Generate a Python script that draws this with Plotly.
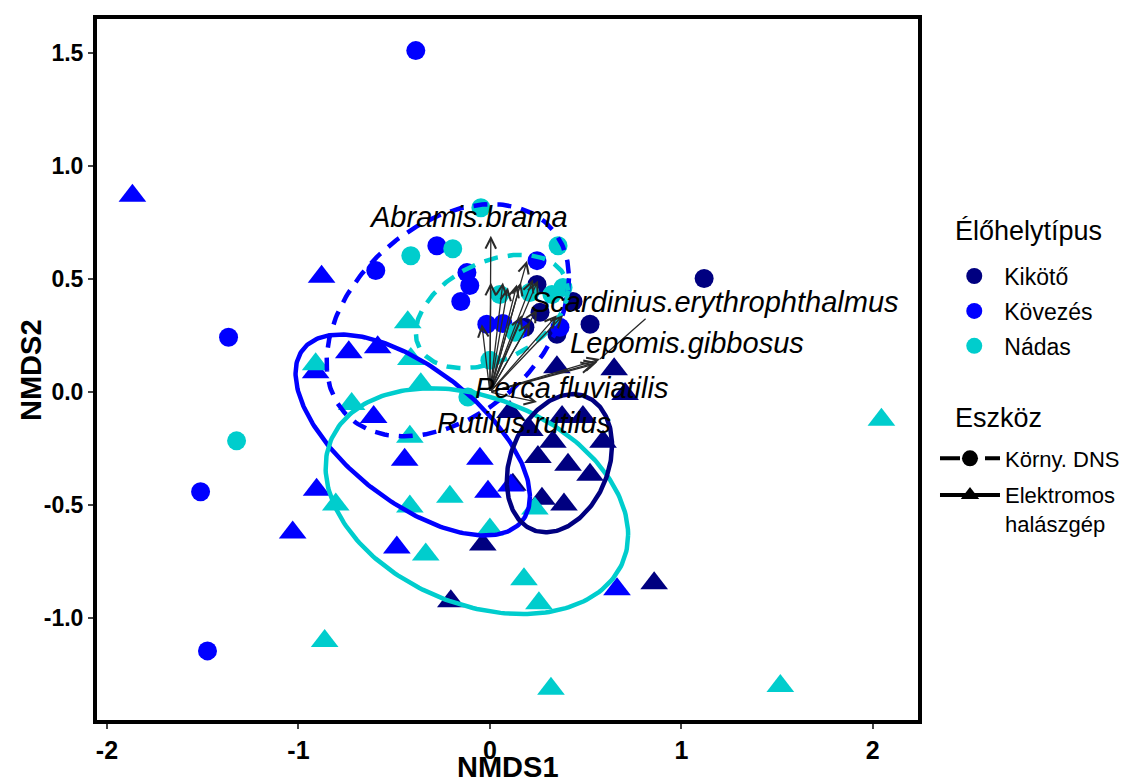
import numpy as np
import plotly.graph_objects as go

# ---------------- data ----------------
habitats = ["Kikötő", "Kövezés", "Nádas"]
tools = ["Körny. DNS", "Elektromos<br>halászgép"]

# eDNA (Körny. DNS) site scores
kikoto_dns_x = [1.119, 0.523, 0.246, 0.434, 0.350, 0.262, 0.183]
kikoto_dns_y = [0.503, 0.300, 0.476, 0.401, 0.256, 0.353, 0.287]
kovezes_dns_x = [-0.387, -1.365, -1.511, -1.475, -0.596, -0.277, -0.120, -0.105, -0.152, -0.016, 0.246, 0.068, 0.157, 0.366]
kovezes_dns_y = [1.512, 0.243, -0.441, -1.146, 0.538, 0.648, 0.529, 0.472, 0.401, 0.300, 0.582, 0.304, 0.278, 0.287]
nadas_dns_x = [-0.047, -0.194, -0.413, 0.356, -1.323, -0.115, 0.000, 0.052, 0.209, 0.324, 0.382, 0.131]
nadas_dns_y = [0.816, 0.635, 0.604, 0.648, -0.216, -0.022, 0.141, 0.432, 0.441, 0.432, 0.463, 0.265]

# electrofishing (Elektromos halászgép) site scores
kikoto_el_x = [0.350, 0.649, 0.706, 0.377, 0.486, 0.329, 0.591, 0.251, 0.408, 0.523, 0.272, 0.387, 0.120, -0.037, -0.204, 0.858, 0.209, 0.105]
kikoto_el_y = [0.110, 0.101, -0.009, -0.110, -0.110, -0.220, -0.220, -0.287, -0.322, -0.366, -0.472, -0.498, -0.410, -0.675, -0.926, -0.847, -0.168, -0.088]
kovezes_el_x = [-1.867, -0.879, -0.737, -0.586, -0.910, -0.607, -0.445, -0.905, -1.030, -0.486, -0.052, -0.010, 0.110, 0.664]
kovezes_el_y = [0.869, 0.511, 0.176, 0.198, 0.088, -0.110, -0.300, -0.432, -0.622, -0.688, -0.295, -0.441, -0.414, -0.873]
nadas_el_x = [-0.429, -0.413, -0.361, -0.722, -0.418, -0.910, -0.805, -0.418, -0.209, -0.335, 0.000, 0.235, 0.178, 0.256, -0.863, 0.319, 1.517, 2.045]
nadas_el_y = [0.309, 0.146, 0.035, -0.053, -0.198, 0.123, -0.498, -0.507, -0.463, -0.719, -0.608, -0.516, -0.829, -0.935, -1.102, -1.314, -1.301, -0.123]

# 95% ellipses: habitat, tool, centre, half-extents, correlation
ell_habitat = ["Kövezés", "Nádas", "Kövezés", "Nádas", "Kikötő"]
ell_tool = ["Körny. DNS", "Körny. DNS", "Elektromos<br>halászgép", "Elektromos<br>halászgép", "Elektromos<br>halászgép"]
ell_cx = [-0.220, 0.010, -0.403, -0.068, 0.363]
ell_cy = [0.318, 0.357, -0.190, -0.483, -0.315]
ell_sx = [0.633, 0.397, 0.612, 0.790, 0.275]
ell_sy = [0.514, 0.251, 0.445, 0.500, 0.306]
ell_r = [0.362, 0.376, -0.614, -0.299, 0.257]

# species vectors (envfit)
species_x = [0.005, 0.005, -0.042, 0.068, 0.094, 0.141, 0.162, 0.194, 0.225, 0.251, 0.246, 0.350, 0.209, 0.167, 0.382, 0.575, 0.560, 0.544, 0.246]
species_y = [0.692, 0.485, 0.300, 0.485, 0.463, 0.476, 0.485, 0.582, 0.498, 0.494, 0.366, 0.340, 0.309, 0.340, 0.340, 0.146, 0.132, 0.123, -0.044]
label_names = ["Abramis.brama", "Scardinius.erythrophthalmus", "Lepomis.gibbosus", "Perca.fluviatilis", "Rutilus.rutilus"]
label_x = [-0.110, 1.177, 1.030, 0.424, 0.178]
label_y = [0.776, 0.397, 0.216, 0.018, -0.137]
label_arrow = [0, 15, 16, 17, 18]  # index of the vector each label belongs to
segment_end_x = 0.821   # ggrepel leader segment end for the Scardinius label
segment_end_y = 0.331

x_ticks = [-2, -1, 0, 1, 2]
x_ticktext = ["-2", "-1", "0", "1", "2"]
y_ticks = [1.5, 1.0, 0.5, 0.0, -0.5, -1.0]
y_ticktext = ["1.5", "1.0", "0.5", "0.0", "-0.5", "-1.0"]

# ---------------- styles ----------------
colors = {"Kikötő": "#000080", "Kövezés": "#0000FF", "Nádas": "#00CDCD"}
symbols = {"Körny. DNS": "circle", "Elektromos<br>halászgép": "triangle-up"}
sizes = {"Körny. DNS": 19, "Elektromos<br>halászgép": 24}
dashes = {"Körny. DNS": "14px,10px", "Elektromos<br>halászgép": "solid"}
TXT = "Liberation Sans"

fig = go.Figure()

groups = [
    ("Kikötő", "Körny. DNS", kikoto_dns_x, kikoto_dns_y),
    ("Kövezés", "Körny. DNS", kovezes_dns_x, kovezes_dns_y),
    ("Nádas", "Körny. DNS", nadas_dns_x, nadas_dns_y),
    ("Kikötő", "Elektromos<br>halászgép", kikoto_el_x, kikoto_el_y),
    ("Kövezés", "Elektromos<br>halászgép", kovezes_el_x, kovezes_el_y),
    ("Nádas", "Elektromos<br>halászgép", nadas_el_x, nadas_el_y),
]
for hab, tool, xs, ys in groups:
    fig.add_trace(go.Scatter(
        x=xs, y=ys, mode="markers", showlegend=False, hoverinfo="skip",
        marker=dict(symbol=symbols[tool], size=sizes[tool], color=colors[hab], line=dict(width=0)),
    ))

# ellipses
t = np.linspace(0, 2 * np.pi, 241)
for hab, tool, cx, cy, sx, sy, r in zip(ell_habitat, ell_tool, ell_cx, ell_cy, ell_sx, ell_sy, ell_r):
    d = np.arccos(r)
    ex = cx + sx * np.cos(t)
    ey = cy + sy * np.cos(t + d)
    fig.add_trace(go.Scatter(
        x=ex, y=ey, mode="lines", showlegend=False, hoverinfo="skip",
        line=dict(color=colors[hab], width=4.5, dash=dashes[tool]),
    ))

# legend-only traces
for i, hab in enumerate(habitats):
    fig.add_trace(go.Scatter(
        x=[None], y=[None], mode="markers", name=hab, legend="legend", legendgroup="h%d" % i,
        marker=dict(symbol="circle", size=19, color=colors[hab]),
    ))
for i, tool in enumerate(tools):
    fig.add_trace(go.Scatter(
        x=[None], y=[None], mode="lines+markers", name=tool, legend="legend2", legendgroup="t%d" % i,
        marker=dict(symbol=symbols[tool], size=sizes[tool] - 2, color="black"),
        line=dict(color="black", width=4, dash="20px,25px" if tool == "Körny. DNS" else "solid"),
    ))

annotations = []
# arrows
for sx_, sy_ in zip(species_x, species_y):
    annotations.append(dict(
        x=sx_, y=sy_, ax=0, ay=0, xref="x", yref="y", axref="x", ayref="y",
        showarrow=True, arrowhead=5, arrowsize=1.6, arrowwidth=1.3, arrowcolor="#2a2a2a",
        standoff=0, text="",
    ))
# leader segment for Scardinius label
ia = label_arrow[1]
annotations.append(dict(
    x=species_x[ia], y=species_y[ia], ax=segment_end_x, ay=segment_end_y, xref="x", yref="y", axref="x", ayref="y",
    showarrow=True, arrowhead=0, arrowwidth=1.3, arrowcolor="#2a2a2a", text="",
))
# labels
for name, lx, ly in zip(label_names, label_x, label_y):
    annotations.append(dict(
        x=lx, y=ly, xref="x", yref="y", text="<i>%s</i>" % name, showarrow=False,
        font=dict(family=TXT, size=29, color="black"), xanchor="center", yanchor="middle",
    ))
# axis titles
annotations.append(dict(
    x=0.5, y=-0.0667, xref="paper", yref="paper", text="<b>NMDS1</b>", showarrow=False,
    font=dict(family=TXT, size=29, color="black"), xanchor="center", yanchor="middle",
))
annotations.append(dict(
    x=-0.081, y=0.5, xref="paper", yref="paper", text="<b>NMDS2</b>", showarrow=False, textangle=-90,
    font=dict(family=TXT, size=29, color="black"), xanchor="center", yanchor="middle",
))
# legend titles
annotations.append(dict(
    x=1.0426, y=0.697, xref="paper", yref="paper", text="Élőhelytípus", showarrow=False,
    font=dict(family=TXT, size=27, color="black"), xanchor="left", yanchor="middle",
))
annotations.append(dict(
    x=1.0426, y=0.431, xref="paper", yref="paper", text="Eszköz", showarrow=False,
    font=dict(family=TXT, size=27, color="black"), xanchor="left", yanchor="middle",
))

fig.update_layout(
    width=1124, height=773,
    margin=dict(l=89, r=214, t=7, b=61),
    paper_bgcolor="white", plot_bgcolor="white",
    annotations=annotations,
    xaxis=dict(range=[-2.052, 2.236], tickvals=x_ticks, ticktext=x_ticktext, showgrid=False, zeroline=False,
               showline=True, linecolor="black", linewidth=4, mirror=True,
               ticks="outside", ticklen=5, tickwidth=1.5, tickcolor="#444",
               tickfont=dict(family=TXT, size=25, color="black", weight="bold")),
    yaxis=dict(range=[-1.452, 1.652], tickvals=y_ticks, ticktext=y_ticktext, showgrid=False, zeroline=False,
               showline=True, linecolor="black", linewidth=4, mirror=True,
               ticks="outside", ticklen=5, tickwidth=1.5, tickcolor="#444",
               tickfont=dict(family=TXT, size=23, color="black", weight="bold")),
    legend=dict(x=1.032, y=0.664, xanchor="left", yanchor="top", bgcolor="rgba(0,0,0,0)",
                font=dict(family=TXT, size=23, color="black"), tracegroupgap=2, itemwidth=50),
    legend2=dict(x=1.0207, y=0.403, xanchor="left", yanchor="top", bgcolor="rgba(0,0,0,0)", valign="top",
                 font=dict(family=TXT, size=22, color="black"), tracegroupgap=5, itemwidth=60),
)

fig.write_html("out.html")
